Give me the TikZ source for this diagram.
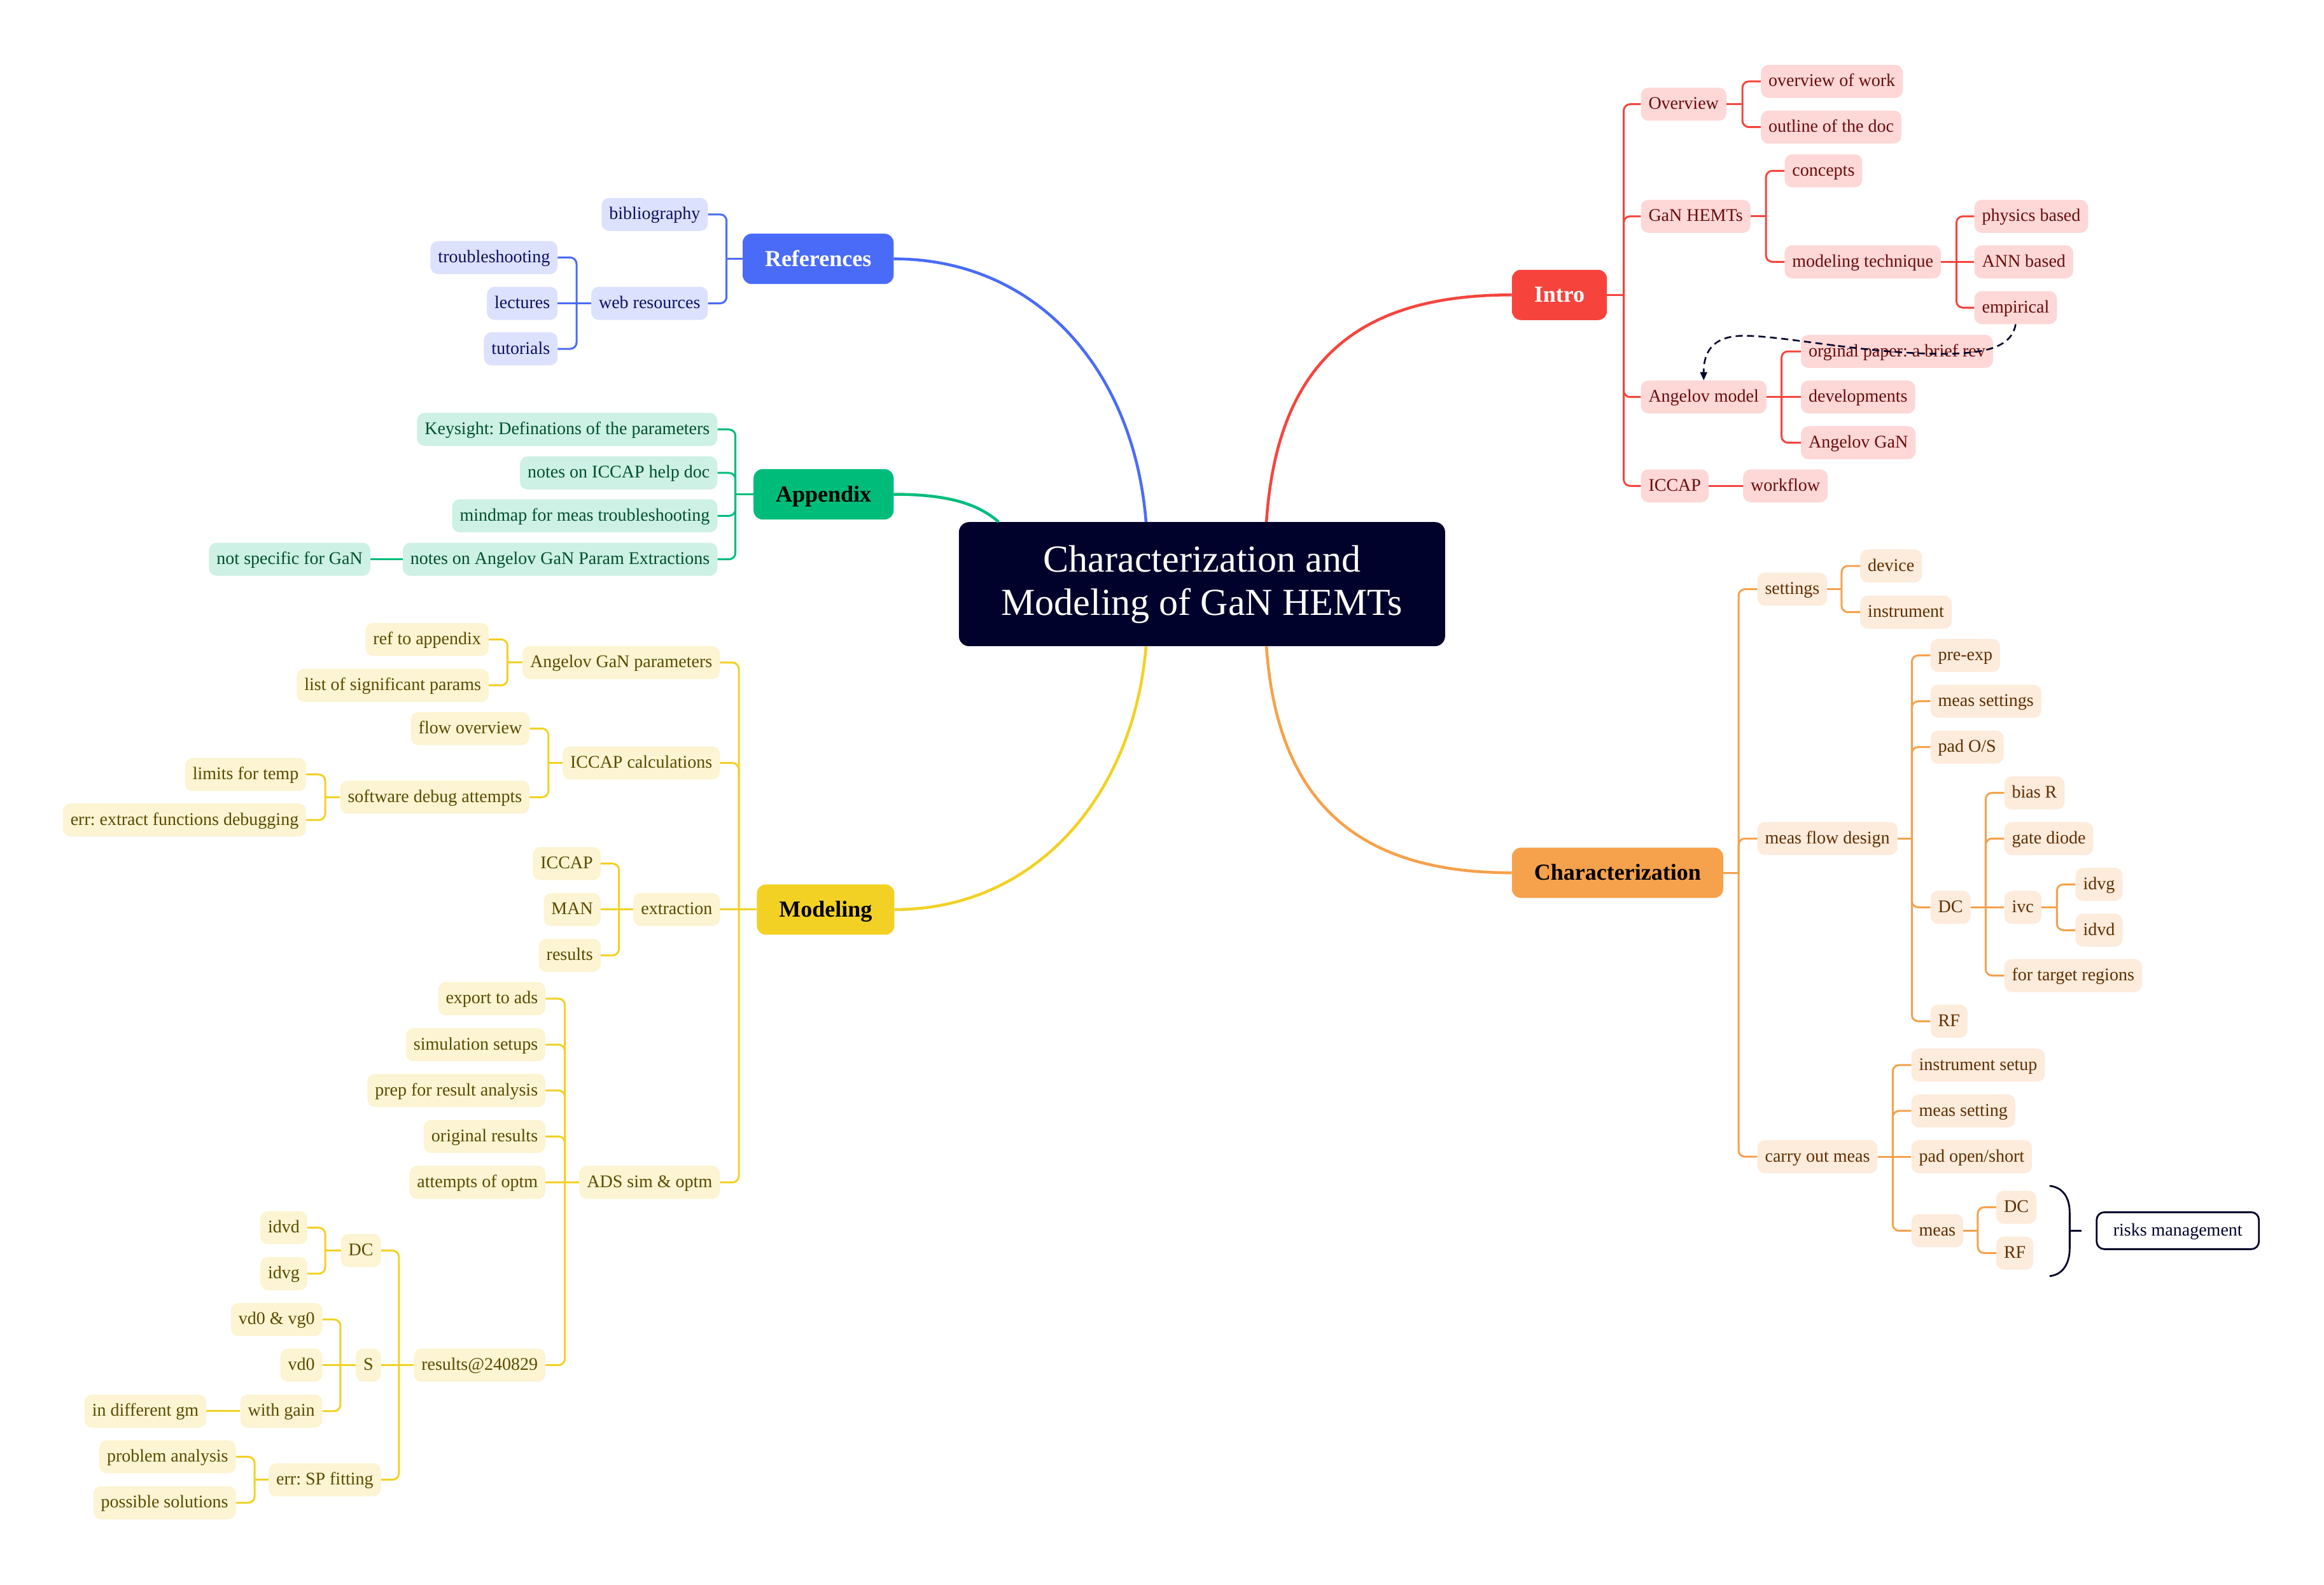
\documentclass[tikz,border=0pt]{standalone}
\usepackage{fontspec}
\setmainfont{Liberation Serif}
\usetikzlibrary{arrows.meta}
\frenchspacing
\definecolor{redM}{HTML}{F6443D}
\definecolor{redF}{HTML}{FDD8D7}
\definecolor{redT}{HTML}{6A0C0C}
\definecolor{orM}{HTML}{F6A14B}
\definecolor{orF}{HTML}{FDEBDC}
\definecolor{orT}{HTML}{5E2F00}
\definecolor{blM}{HTML}{4A6BF8}
\definecolor{blF}{HTML}{DCE1FD}
\definecolor{blT}{HTML}{0B1260}
\definecolor{grM}{HTML}{00BC7B}
\definecolor{grF}{HTML}{CDF1E4}
\definecolor{grT}{HTML}{00502F}
\definecolor{yeM}{HTML}{F2D124}
\definecolor{yeF}{HTML}{FCF4D2}
\definecolor{yeT}{HTML}{5A4B00}
\definecolor{navy}{HTML}{01022B}
\begin{document}
\frenchspacing
\begin{tikzpicture}[x=2.3291pt,y=-2.3291pt,
  kid/.style={rounded corners=12pt, minimum height=52pt, inner xsep=12pt, inner ysep=0pt,
    font=\fontsize{28}{32}\selectfont\frenchspacing, text height=20.5pt, text depth=4.5pt},
  rk/.style={kid, fill=redF, text=redT},
  ok/.style={kid, fill=orF, text=orT},
  bk/.style={kid, fill=blF, text=blT},
  gk/.style={kid, fill=grF, text=grT},
  yk/.style={kid, fill=yeF, text=yeT},
  mainbox/.style={rounded corners=14pt, minimum height=79pt, inner xsep=35pt, inner ysep=0pt,
    font=\fontsize{36}{40}\selectfont\bfseries, text height=28pt, text depth=5pt},
  rl/.style={draw=redM, line width=3pt, rounded corners=10pt},
  ol/.style={draw=orM, line width=3pt, rounded corners=10pt},
  bl/.style={draw=blM, line width=3pt, rounded corners=10pt},
  gl/.style={draw=grM, line width=3pt, rounded corners=10pt},
  yl/.style={draw=yeM, line width=3pt, rounded corners=10pt},
  branch/.style={line width=4.5pt},
  risk/.style={draw=navy, line width=2.8pt, fill=white, rounded corners=12pt, minimum height=58pt,
    inner xsep=26pt, inner ysep=0pt, text=navy, font=\fontsize{28}{32}\selectfont, text height=20.5pt, text depth=4.5pt}
]
\useasboundingbox (0,0) rectangle (1568,1069);

% ---------------- centre ----------------
\node[fill=navy, rounded corners=16pt, minimum width=764pt, minimum height=195pt, inner sep=0pt,
  text=white, align=center, font=\fontsize{60}{68}\selectfont] (ctr) at (811,394)
  {Characterization and\\Modeling of GaN HEMTs};

% ---------------- main branch nodes ----------------
\node[mainbox, fill=redM, text=white, anchor=west] (intro) at (1020,198.9) {Intro};
\node[mainbox, fill=orM, text=black, anchor=west] (char) at (1020,588.7) {Characterization};
\node[mainbox, fill=blM, text=white, anchor=east] (ref) at (603,174.6) {References};
\node[mainbox, fill=grM, text=black, anchor=east] (app) at (603,333.4) {Appendix};
\node[mainbox, fill=yeM, text=black, anchor=east] (mod) at (603.5,613.5) {Modeling};

\draw[branch, redM] (ctr.44) .. controls (862,240) and (920,198.9) .. (intro.west);
\draw[branch, orM] (ctr.316) .. controls (862,545) and (920,588.7) .. (char.west);
\draw[branch, blM] (ref.east) .. controls (700,174.6) and (765,250) .. (ctr.132);
\draw[branch, grM] (app.east) .. controls (640,333.4) and (660,340) .. (ctr.163);
\draw[branch, yeM] (mod.east) .. controls (700,613.5) and (765,535) .. (ctr.228);

% ---------------- Intro ----------------
\node[rk,anchor=west] (ov) at (1107,70.3) {Overview};
\node[rk,anchor=west] (ovw) at (1188,54.9) {overview of work};
\node[rk,anchor=west] (otd) at (1188,85.7) {outline of the doc};
\node[rk,anchor=west] (gan) at (1107,145.9) {GaN HEMTs};
\node[rk,anchor=west] (con) at (1204,115.2) {concepts};
\node[rk,anchor=west] (mt) at (1204,176.6) {modeling technique};
\node[rk,anchor=west] (phy) at (1332,145.9) {physics based};
\node[rk,anchor=west] (ann) at (1332,176.6) {ANN based};
\node[rk,anchor=west] (emp) at (1332,207.5) {empirical};
\node[rk,anchor=west] (am) at (1107,267.8) {Angelov model};
\node[rk,anchor=west] (orp) at (1215,237.0) {orginal paper: a brief rev};
\node[rk,anchor=west] (dev) at (1215,267.8) {developments};
\node[rk,anchor=west] (agn) at (1215,298.6) {Angelov GaN};
\node[rk,anchor=west] (icc) at (1107,327.7) {ICCAP};
\node[rk,anchor=west] (wf) at (1176,327.7) {workflow};

\coordinate (jI) at (1095.5,198.9);
\coordinate (jov) at (1175.6,70.3);
\coordinate (jgan) at (1191.5,145.9);
\coordinate (jmt) at (1320,176.6);
\coordinate (jam) at (1202,267.8);
\draw[rl] (intro.east) -- (jI);
\foreach \c in {ov,gan,am,icc} \draw[rl] (jI) |- (\c.west);
\draw[rl] (ov.east) -- (jov);
\foreach \c in {ovw,otd} \draw[rl] (jov) |- (\c.west);
\draw[rl] (gan.east) -- (jgan);
\foreach \c in {con,mt} \draw[rl] (jgan) |- (\c.west);
\draw[rl] (mt.east) -- (jmt);
\foreach \c in {phy,emp} \draw[rl] (jmt) |- (\c.west);
\draw[rl] (jmt) -- (ann.west);
\draw[rl] (am.east) -- (jam);
\foreach \c in {orp,agn} \draw[rl] (jam) |- (\c.west);
\draw[rl] (jam) -- (dev.west);
\draw[rl] (icc.east) -- (wf.west);

\draw[navy, line width=2.6pt, dash pattern=on 11pt off 7pt, -{Triangle[length=13pt,width=11pt]}]
  (emp.south) .. controls (1357,236) and (1335,239.5) .. (1300,238.5)
  .. controls (1250,237) and (1200,226) .. (1175,226.5)
  .. controls (1155,227) and (1149.4,238) .. (am.north);

% ---------------- Characterization ----------------
\node[ok,anchor=west] (set) at (1185.6,397.4) {settings};
\node[ok,anchor=west] (dvc) at (1255,381.7) {device};
\node[ok,anchor=west] (ins) at (1255,412.9) {instrument};
\node[ok,anchor=west] (mfd) at (1185.6,565.6) {meas flow design};
\node[ok,anchor=west] (pre) at (1302.4,442.1) {pre-exp};
\node[ok,anchor=west] (mse) at (1302.4,473) {meas settings};
\node[ok,anchor=west] (pos) at (1302.4,503.9) {pad O/S};
\node[ok,anchor=west] (dca) at (1302.4,612) {DC};
\node[ok,anchor=west] (rfa) at (1302.4,688.8) {RF};
\node[ok,anchor=west] (bias) at (1352.2,534.8) {bias R};
\node[ok,anchor=west] (gd) at (1352.2,565.6) {gate diode};
\node[ok,anchor=west] (ivc) at (1352.2,612) {ivc};
\node[ok,anchor=west] (ftr) at (1352.2,658) {for target regions};
\node[ok,anchor=west] (idvga) at (1400.3,596.5) {idvg};
\node[ok,anchor=west] (idvda) at (1400.3,627.4) {idvd};
\node[ok,anchor=west] (com) at (1185.6,780.2) {carry out meas};
\node[ok,anchor=west] (isu) at (1289.5,718.4) {instrument setup};
\node[ok,anchor=west] (mst) at (1289.5,749.3) {meas setting};
\node[ok,anchor=west] (pos2) at (1289.5,780.2) {pad open/short};
\node[ok,anchor=west] (meas) at (1289.5,830.1) {meas};
\node[ok,anchor=west] (dcb) at (1346.8,814.3) {DC};
\node[ok,anchor=west] (rfb) at (1346.8,845.2) {RF};

\coordinate (jC) at (1173,588.7);
\coordinate (jset) at (1242.5,397.4);
\coordinate (jmfd) at (1289.9,565.6);
\coordinate (jdc) at (1339.7,612);
\coordinate (jivc) at (1387.8,612);
\coordinate (jcom) at (1277,780.2);
\coordinate (jmeas) at (1334.4,830.1);
\draw[ol] (char.east) -- (jC);
\foreach \c in {set,mfd,com} \draw[ol] (jC) |- (\c.west);
\draw[ol] (set.east) -- (jset);
\foreach \c in {dvc,ins} \draw[ol] (jset) |- (\c.west);
\draw[ol] (mfd.east) -- (jmfd);
\foreach \c in {pre,mse,pos,dca,rfa} \draw[ol] (jmfd) |- (\c.west);
\draw[ol] (dca.east) -- (jdc);
\foreach \c in {bias,gd,ftr} \draw[ol] (jdc) |- (\c.west);
\draw[ol] (jdc) -- (ivc.west);
\draw[ol] (ivc.east) -- (jivc);
\foreach \c in {idvga,idvda} \draw[ol] (jivc) |- (\c.west);
\draw[ol] (com.east) -- (jcom);
\foreach \c in {isu,mst,meas} \draw[ol] (jcom) |- (\c.west);
\draw[ol] (jcom) -- (pos2.west);
\draw[ol] (meas.east) -- (jmeas);
\foreach \c in {dcb,rfb} \draw[ol] (jmeas) |- (\c.west);

\node[risk, anchor=west] (rm) at (1414,830.1) {risks management};
\coordinate (brT) at (1383.2,799.9);
\coordinate (brB) at (1383.2,860.7);
\coordinate (brM) at (1396.4,830.1);
\coordinate (brTip) at (1404.5,830.1);
\draw[navy, line width=2.8pt, line cap=round]
  (brT) .. controls (1392,801) and (1396.4,808) .. (1396.4,818) -- (1396.4,842)
  .. controls (1396.4,852) and (1392,859.6) .. (brB);
\draw[navy, line width=2.8pt] (brM) -- (brTip);

% ---------------- References ----------------
\node[bk,anchor=east] (bib) at (477.7,144.6) {bibliography};
\node[bk,anchor=east] (web) at (477.7,204.6) {web resources};
\node[bk,anchor=east] (trb) at (376.3,173.7) {troubleshooting};
\node[bk,anchor=east] (lec) at (376.3,204.6) {lectures};
\node[bk,anchor=east] (tut) at (376.3,235.3) {tutorials};
\coordinate (jR) at (490.2,174.6);
\coordinate (jweb) at (389,204.6);
\draw[bl] (ref.west) -- (jR);
\foreach \c in {bib,web} \draw[bl] (jR) |- (\c.east);
\draw[bl] (web.west) -- (jweb);
\foreach \c in {trb,tut} \draw[bl] (jweb) |- (\c.east);
\draw[bl] (jweb) -- (lec.east);

% ---------------- Appendix ----------------
\node[gk,anchor=east] (kd) at (484.1,289.7) {Keysight: Definations of the parameters};
\node[gk,anchor=east] (nic) at (484.1,319) {notes on ICCAP help doc};
\node[gk,anchor=east] (mmt) at (484.1,347.9) {mindmap for meas troubleshooting};
\node[gk,anchor=east] (nag) at (484.1,377.2) {notes on Angelov GaN Param Extractions};
\node[gk,anchor=east] (nsg) at (249.9,377.2) {not specific for GaN};
\coordinate (jA) at (496.2,333.4);
\draw[gl] (app.west) -- (jA);
\foreach \c in {kd,nic,mmt,nag} \draw[gl] (jA) |- (\c.east);
\draw[gl] (nag.west) -- (nsg.east);

% ---------------- Modeling ----------------
\node[yk,anchor=east] (agp) at (485.8,446.9) {Angelov GaN parameters};
\node[yk,anchor=east] (icl) at (485.8,514.6) {ICCAP calculations};
\node[yk,anchor=east] (ext) at (485.8,613.5) {extraction};
\node[yk,anchor=east] (ads) at (485.8,797.5) {ADS sim \& optm};
\node[yk,anchor=east] (rta) at (329.8,431.3) {ref to appendix};
\node[yk,anchor=east] (lsp) at (329.8,462.3) {list of significant params};
\node[yk,anchor=east] (fo) at (357.4,491.4) {flow overview};
\node[yk,anchor=east] (sda) at (357.4,537.7) {software debug attempts};
\node[yk,anchor=east] (lft) at (206.7,522.4) {limits for temp};
\node[yk,anchor=east] (efd) at (206.7,553.1) {err: extract functions debugging};
\node[yk,anchor=east] (mic) at (405.3,582.5) {ICCAP};
\node[yk,anchor=east] (man) at (405.3,613.5) {MAN};
\node[yk,anchor=east] (mres) at (405.3,644.4) {results};
\node[yk,anchor=east] (eta) at (368.1,673.6) {export to ads};
\node[yk,anchor=east] (sis) at (368.1,704.6) {simulation setups};
\node[yk,anchor=east] (pra) at (368.1,735.5) {prep for result analysis};
\node[yk,anchor=east] (orr) at (368.1,766.5) {original results};
\node[yk,anchor=east] (aop) at (368.1,797.5) {attempts of optm};
\node[yk,anchor=east] (r24) at (368.1,920.8) {results@240829};
\node[yk,anchor=east] (mdc) at (257.1,843.5) {DC};
\node[yk,anchor=east] (ms) at (257.1,920.8) {S};
\node[yk,anchor=east] (esp) at (257.1,998.1) {err: SP fitting};
\node[yk,anchor=east] (idvdb) at (207.4,828.1) {idvd};
\node[yk,anchor=east] (idvgb) at (207.4,859.1) {idvg};
\node[yk,anchor=east] (vv) at (217.6,890) {vd0 \& vg0};
\node[yk,anchor=east] (vd) at (217.6,920.8) {vd0};
\node[yk,anchor=east] (wg) at (217.6,951.8) {with gain};
\node[yk,anchor=east] (idg) at (139.3,951.8) {in different gm};
\node[yk,anchor=east] (pan) at (159.2,982.6) {problem analysis};
\node[yk,anchor=east] (pso) at (159.2,1013.6) {possible solutions};

\coordinate (jM) at (498.5,613.5);
\coordinate (jagp) at (342.4,446.9);
\coordinate (jicl) at (370,514.6);
\coordinate (jsda) at (219.4,537.7);
\coordinate (jext) at (417.6,613.5);
\coordinate (jads) at (381.1,797.5);
\coordinate (jr24) at (269.1,920.8);
\coordinate (jmdc) at (219.4,843.5);
\coordinate (jms) at (229.7,920.8);
\coordinate (jesp) at (171.8,998.1);
\draw[yl] (mod.west) -- (jM);
\foreach \c in {agp,icl,ads} \draw[yl] (jM) |- (\c.east);
\draw[yl] (jM) -- (ext.east);
\draw[yl] (agp.west) -- (jagp);
\foreach \c in {rta,lsp} \draw[yl] (jagp) |- (\c.east);
\draw[yl] (icl.west) -- (jicl);
\foreach \c in {fo,sda} \draw[yl] (jicl) |- (\c.east);
\draw[yl] (sda.west) -- (jsda);
\foreach \c in {lft,efd} \draw[yl] (jsda) |- (\c.east);
\draw[yl] (ext.west) -- (jext);
\foreach \c in {mic,mres} \draw[yl] (jext) |- (\c.east);
\draw[yl] (jext) -- (man.east);
\draw[yl] (ads.west) -- (jads);
\foreach \c in {eta,sis,pra,orr,r24} \draw[yl] (jads) |- (\c.east);
\draw[yl] (jads) -- (aop.east);
\draw[yl] (r24.west) -- (jr24);
\foreach \c in {mdc,esp} \draw[yl] (jr24) |- (\c.east);
\draw[yl] (jr24) -- (ms.east);
\draw[yl] (mdc.west) -- (jmdc);
\foreach \c in {idvdb,idvgb} \draw[yl] (jmdc) |- (\c.east);
\draw[yl] (ms.west) -- (jms);
\foreach \c in {vv,wg} \draw[yl] (jms) |- (\c.east);
\draw[yl] (jms) -- (vd.east);
\draw[yl] (wg.west) -- (idg.east);
\draw[yl] (esp.west) -- (jesp);
\foreach \c in {pan,pso} \draw[yl] (jesp) |- (\c.east);
\end{tikzpicture}
\end{document}
